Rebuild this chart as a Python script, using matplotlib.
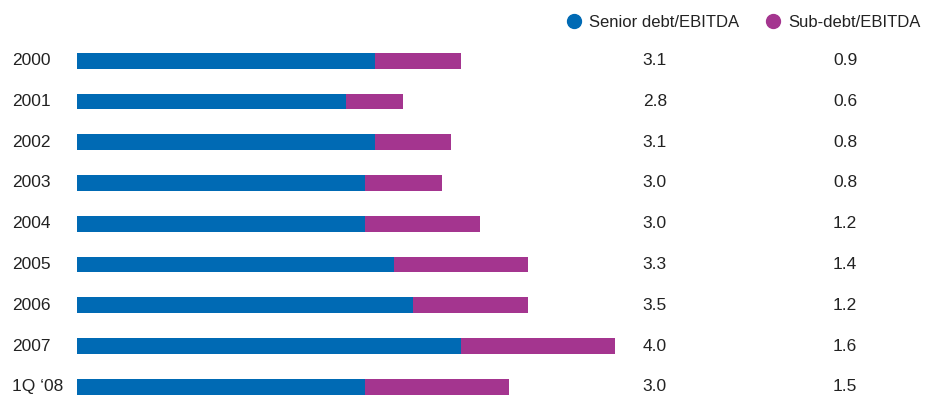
import matplotlib
matplotlib.use("Agg")
import matplotlib.pyplot as plt
from matplotlib.lines import Line2D

plt.rcParams['font.family'] = ['Liberation Sans Narrow', 'Liberation Sans', 'DejaVu Sans']

periods = ["2000", "2001", "2002", "2003", "2004", "2005", "2006", "2007", "1Q \u201808"]
senior = [3.1, 2.8, 3.1, 3.0, 3.0, 3.3, 3.5, 4.0, 3.0]
sub = [0.9, 0.6, 0.8, 0.8, 1.2, 1.4, 1.2, 1.6, 1.5]

blue = "#006ab4"
purple = "#a4358f"
text_col = "#222222"

fig = plt.figure(figsize=(9.38, 3.99), dpi=100)
# axes starts at the bar origin (x=77px) and covers the whole height
ax = fig.add_axes([77 / 938, 0, 1 - 77 / 938, 1])

pos = list(range(len(periods)))
ax.barh(pos, senior, height=0.39, color=blue)
ax.barh(pos, sub, left=senior, height=0.39, color=purple)

ax.set_xlim(0, (938 - 77) / 96)
ax.set_ylim(8.30, -1.49)
ax.axis("off")

for i, p in enumerate(periods):
    ax.text(-65 / 96, i, p, ha="left", va="center", fontsize=12.5, color=text_col)
    ax.text(6.02, i, f"{senior[i]:.1f}", ha="center", va="center", fontsize=12.5, color=text_col)
    ax.text(8.0, i, f"{sub[i]:.1f}", ha="center", va="center", fontsize=12.5, color=text_col)

handles = [
    Line2D([], [], marker="o", linestyle="", color=blue, markersize=10),
    Line2D([], [], marker="o", linestyle="", color=purple, markersize=10),
]
fig.legend(handles, ["Senior debt/EBITDA", "Sub-debt/EBITDA"], loc="upper right",
           bbox_to_anchor=(0.997, 1.0), ncol=2, frameon=False, fontsize=12,
           handletextpad=0.4, columnspacing=1.5, handlelength=1.0, labelcolor=text_col)

fig.savefig("out.png", dpi=100)
